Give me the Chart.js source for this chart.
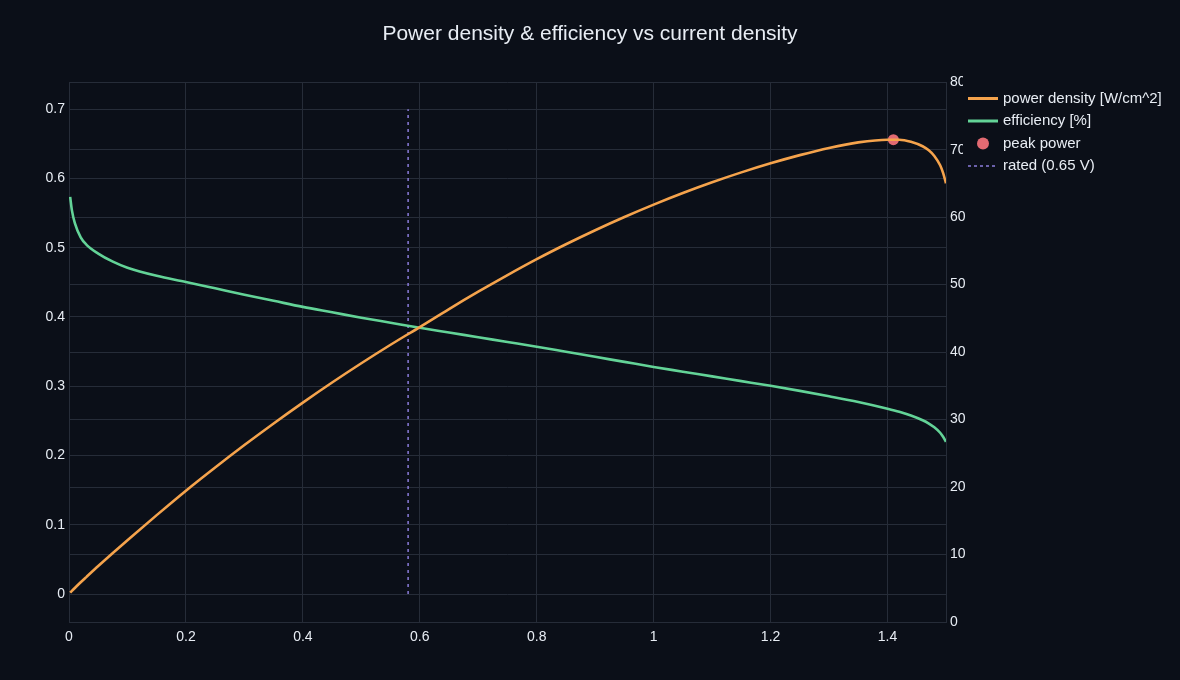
<!DOCTYPE html>
<html>
<head>
<meta charset="utf-8">
<script src="https://cdn.jsdelivr.net/npm/chart.js@4.4.1/dist/chart.umd.min.js"></script>
<style>
  html, body { margin: 0; padding: 0; background: #0b0f18; }
  #wrap { width: 1180px; height: 680px; }
</style>
</head>
<body>
<div id="wrap"><canvas id="chart"></canvas></div>
<script>
// current density [A/cm^2]
const currentDensity = [0.002, 0.005, 0.01, 0.02, 0.03, 0.05, 0.075, 0.1, 0.15, 0.2, 0.25, 0.3, 0.35, 0.4, 0.45, 0.5, 0.55, 0.6, 0.65, 0.7, 0.75, 0.8, 0.85, 0.9, 0.95, 1.0, 1.05, 1.1, 1.15, 1.2, 1.25, 1.3, 1.35, 1.4, 1.42, 1.44, 1.46, 1.47, 1.48, 1.49, 1.495, 1.5];
const powerDensity = [0.0019, 0.0045, 0.0087, 0.0169, 0.0248, 0.0404, 0.0593, 0.0777, 0.1139, 0.1492, 0.1827, 0.2151, 0.2463, 0.2764, 0.3054, 0.3332, 0.3599, 0.3855, 0.4115, 0.4365, 0.4605, 0.4835, 0.5050, 0.5253, 0.5444, 0.5623, 0.5790, 0.5945, 0.6088, 0.6219, 0.6337, 0.6441, 0.6521, 0.6560, 0.6560, 0.6530, 0.6465, 0.6410, 0.6325, 0.6190, 0.6080, 0.5930];
const efficiency = [63.0, 61.0, 59.1, 57.0, 55.9, 54.6, 53.4, 52.5, 51.3, 50.4, 49.45, 48.5, 47.6, 46.7, 45.9, 45.1, 44.35, 43.6, 42.9, 42.2, 41.5, 40.8, 40.05, 39.3, 38.55, 37.8, 37.1, 36.4, 35.7, 35.0, 34.25, 33.45, 32.6, 31.6, 31.15, 30.6, 29.9, 29.45, 28.85, 28.05, 27.45, 26.7];

const peakX = [1.41];
const peakY = [0.656];
const ratedX = [0.58, 0.58];
const ratedY = [0, 0.7];

const xTicks = [0, 0.2, 0.4, 0.6, 0.8, 1, 1.2, 1.4];
const leftTicks = [0, 0.1, 0.2, 0.3, 0.4, 0.5, 0.6, 0.7];
const rightTicks = [0, 10, 20, 30, 40, 50, 60, 70, 80];

const legendLabels = ["power density [W/cm^2]", "efficiency [%]", "peak power", "rated (0.65 V)"];

const BG = "#0b0f18";
const GRID = "#262c38";
const TEXT = "#e8edf4";
const FONT = "'Liberation Sans', Arial, sans-serif";
const ORANGE = "#f5a34c";
const GREEN = "#63d397";
const RED = "#e26a72";
const PURPLE = "#8c7ddc";

function toPoints(xs, ys){
    return xs.map((x, i) => ({x: x, y: ys[i]}));
}

function fixedTicks(list){
    return function(scale){
        scale.ticks = list.map(v => ({value: v}));
    };
}

const bgPlugin = {
    id: "bg",
    beforeDraw(chart){
        const c = chart.ctx;
        c.save();
        c.fillStyle = BG;
        c.fillRect(0, 0, chart.width, chart.height);
        c.restore();
    }
};

// legend drawn by hand at the top right, like the reference
const legendPlugin = {
    id: "sideLegend",
    afterDraw(chart){
        const c = chart.ctx;
        c.save();
        c.fillStyle = BG;
        c.fillRect(963, 76, 215, 105);
        const rows = [98.5, 121, 143.5, 166];
        c.font = "15px " + FONT;
        c.textBaseline = "middle";
        legendLabels.forEach((label, i) => {
            const y = rows[i];
            c.setLineDash([]);
            if(i === 0 || i === 1){
                c.strokeStyle = i === 0 ? ORANGE : GREEN;
                c.lineWidth = 3;
                c.beginPath(); c.moveTo(968, y); c.lineTo(998, y); c.stroke();
            } else if(i === 2){
                c.fillStyle = RED;
                c.beginPath(); c.arc(983, y, 6, 0, Math.PI * 2); c.fill();
            } else {
                c.strokeStyle = PURPLE;
                c.lineWidth = 1.5;
                c.setLineDash([3, 3]);
                c.beginPath(); c.moveTo(968, y); c.lineTo(998, y); c.stroke();
            }
            c.fillStyle = TEXT;
            c.fillText(label, 1003, y);
        });
        c.restore();
    }
};

new Chart(document.getElementById("chart"), {
    type: "line",
    data: {
        datasets: [
            {
                label: legendLabels[0],
                data: toPoints(currentDensity, powerDensity),
                yAxisID: "y",
                borderColor: ORANGE,
                borderWidth: 2.6,
                pointRadius: 0,
                cubicInterpolationMode: "monotone"
            },
            {
                label: legendLabels[1],
                data: toPoints(currentDensity, efficiency),
                yAxisID: "y2",
                borderColor: GREEN,
                borderWidth: 2.6,
                pointRadius: 0,
                cubicInterpolationMode: "monotone"
            },
            {
                label: legendLabels[2],
                data: toPoints(peakX, peakY),
                yAxisID: "y",
                showLine: false,
                pointRadius: 5.5,
                pointBackgroundColor: RED,
                pointBorderWidth: 0
            },
            {
                label: legendLabels[3],
                data: toPoints(ratedX, ratedY),
                yAxisID: "y",
                borderColor: PURPLE,
                borderWidth: 1.5,
                borderDash: [3, 4],
                pointRadius: 0
            }
        ]
    },
    options: {
        responsive: true,
        maintainAspectRatio: false,
        animation: false,
        layout: { padding: 0 },
        plugins: {
            legend: { display: false },
            tooltip: { enabled: false },
            title: {
                display: true,
                text: "Power density & efficiency vs current density",
                color: TEXT,
                font: { family: FONT, size: 21, weight: "normal" },
                padding: { top: 22, bottom: 35 }
            }
        },
        scales: {
            x: {
                type: "linear",
                min: 0,
                max: 1.5,
                afterBuildTicks: fixedTicks(xTicks),
                afterFit(scale){ scale.height = 58; },
                grid: { color: GRID, drawTicks: false },
                border: { color: GRID },
                ticks: {
                    color: TEXT,
                    font: { family: FONT, size: 14 },
                    padding: 7,
                    maxRotation: 0,
                    callback: v => String(v)
                }
            },
            y: {
                type: "linear",
                position: "left",
                min: -0.0404,
                max: 0.739,
                afterBuildTicks: fixedTicks(leftTicks),
                afterFit(scale){ scale.width = 69; },
                grid: { color: GRID, drawTicks: false },
                border: { display: false },
                ticks: {
                    color: TEXT,
                    font: { family: FONT, size: 14 },
                    padding: 4,
                    callback: v => String(v)
                }
            },
            y2: {
                type: "linear",
                position: "right",
                min: 0,
                max: 80,
                afterBuildTicks: fixedTicks(rightTicks),
                afterFit(scale){ scale.width = 234; },
                grid: { color: GRID, drawTicks: false },
                border: { color: GRID },
                ticks: {
                    color: TEXT,
                    font: { family: FONT, size: 14 },
                    padding: 4,
                    callback: v => String(v)
                }
            }
        }
    },
    plugins: [bgPlugin, legendPlugin]
});
</script>
</body>
</html>
